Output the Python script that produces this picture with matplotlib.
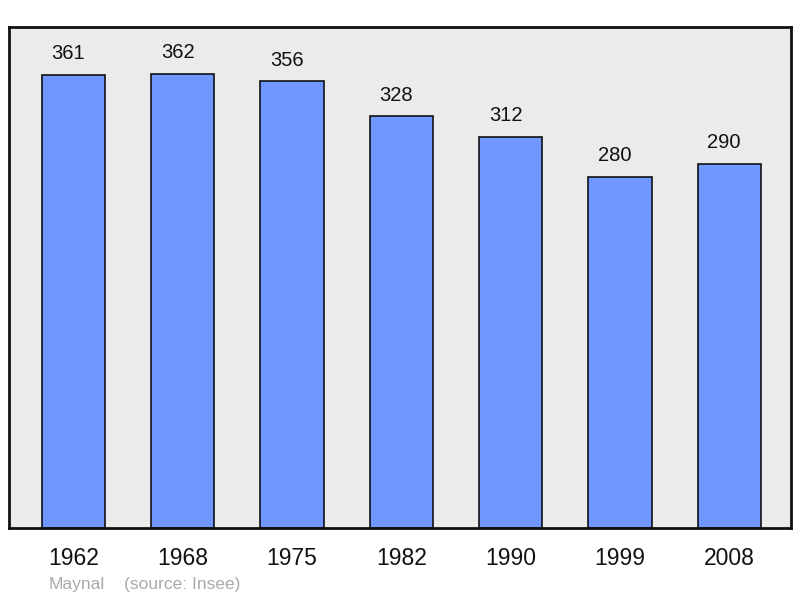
import matplotlib
matplotlib.use("Agg")
import matplotlib.pyplot as plt

plt.rcParams['font.family'] = ['Liberation Sans', 'DejaVu Sans']

years = ["1962", "1968", "1975", "1982", "1990", "1999", "2008"]
population = [361, 362, 356, 328, 312, 280, 290]

fig = plt.figure(figsize=(8, 5.98), dpi=100)
ax = fig.add_axes([9/800, 70/598, 782/800, 501/598])
ax.set_facecolor('#ebebeb')
x = list(range(len(years)))
ax.bar(x, population, width=0.58, color='#7096ff', edgecolor='#111111', linewidth=1.2, zorder=2)
for xi, v in zip(x, population):
    ax.annotate(str(v), (xi, v), xytext=(-3.6, 8.5), textcoords='offset points',
                ha='center', va='bottom', fontsize=14.5, color='#111111')
ax.set_xlim(-0.59, 6.565)
ax.set_ylim(0, 399.3)
ax.set_yticks([])
ax.set_xticks(x)
ax.set_xticklabels(years, fontsize=16.5, color='#111111')
ax.tick_params(axis='x', length=0, pad=14)
for s in ax.spines.values():
    s.set_linewidth(2)
    s.set_color('#111111')
fig.text(49/800, 1 - 585/598, "Maynal", fontsize=12.5, color='#aaaaaa', va='center', ha='left')
fig.text(124/800, 1 - 585/598, "(source: Insee)", fontsize=12.5, color='#aaaaaa', va='center', ha='left')
fig.savefig("out.png", dpi=100, facecolor='white')
